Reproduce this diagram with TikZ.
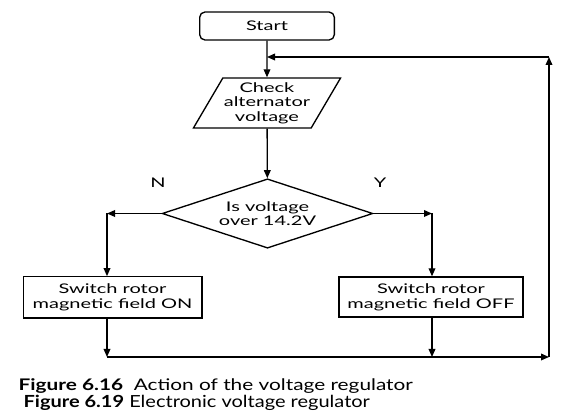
\documentclass[tikz,border=0pt]{standalone}
\usepackage{fontspec}
\setmainfont{Lato}
\newfontfamily\flowfont{Lato}[FakeStretch=1.5]
\newfontfamily\capfont{Lato}[FakeStretch=1.3]
\newfontfamily\subcapfont{Lato}[FakeStretch=1.2]
\usetikzlibrary{shapes.geometric,arrows.meta}

\tikzset{every picture/.style={line width=1pt}}
\tikzset{
  arr/.style={-{Triangle[length=6pt,width=5pt]}},
  proc/.style={draw, rectangle, inner sep=0.75pt, align=center, font=\flowfont\fontsize{10}{11}\selectfont},
  flowlabel/.style={inner sep=0.75pt, font=\flowfont\fontsize{10}{11}\selectfont}
}

\begin{document}
\begin{tikzpicture}[x=0.75pt,y=0.75pt,yscale=-1,xscale=1]
\path[use as bounding box] (0,0) rectangle (561,420);

%Shape: Rounded Rect
\node (start) at (267,26) [proc, rounded corners=4pt, minimum width=101pt, minimum height=21pt] {Start};
%Shape: Parallelogram
\node (check) at (267,103) [proc, trapezium, trapezium left angle=56, trapezium right angle=124, trapezium stretches=true, minimum width=110pt, minimum height=37.5pt] {Check\\alternator\\voltage};
%Shape: Diamond
\node (dec) at (267.5,213.5) [proc, diamond, aspect=3, inner sep=0pt, minimum width=158pt, minimum height=52pt] {Is voltage\\over 14.2V};
%Shape: Rectangle
\node (on) at (112.5,297.5) [proc, minimum width=134pt, minimum height=31pt] {Switch rotor\\magnetic field ON};
%Shape: Rectangle
\node (off) at (431,297) [proc, minimum width=138pt, minimum height=30pt] {Switch rotor\\magnetic field OFF};

%Corners of the lines
\coordinate (nturn) at (107,213.5);
\coordinate (yturn) at (432,213.5);
\coordinate (bl) at (107,357);
\coordinate (br) at (549,357);
\coordinate (tr) at (549,57);
\coordinate (merge) at (start.south |- tr);

%Straight Lines
\draw[arr] (start) -- (check);
\draw[arr] (check) -- (dec);
\draw[arr] (dec.west) -- (nturn);
\draw[arr] (nturn) -- (on.north -| nturn);
\draw[arr] (dec.east) -- (yturn);
\draw[arr] (yturn) -- (off.north -| yturn);
\draw[arr] (on.south -| bl) -- (bl);
\draw[arr] (off.south -| yturn) -- (yturn |- bl);
\draw[arr] (bl) -- (br);
\draw[arr] (br) -- (tr);
\draw[arr] (tr) -- (merge);

% Text Node
\node (nlab) at (158,183) [flowlabel] {N};
% Text Node
\node (ylab) at (380,183) [flowlabel] {Y};
% Text Node
\node (cap1) at (18,391) [anchor=base west, inner sep=0pt, font=\capfont\fontsize{12}{13}\selectfont] {\textbf{Figure 6.16}\ \ Action of the voltage regulator};
% Text Node
\node (cap2) at (23,407) [anchor=base west, inner sep=0pt, font=\subcapfont\fontsize{12.5}{13}\selectfont] {\textbf{Figure 6.19} Electronic voltage regulator};

\end{tikzpicture}
\end{document}
